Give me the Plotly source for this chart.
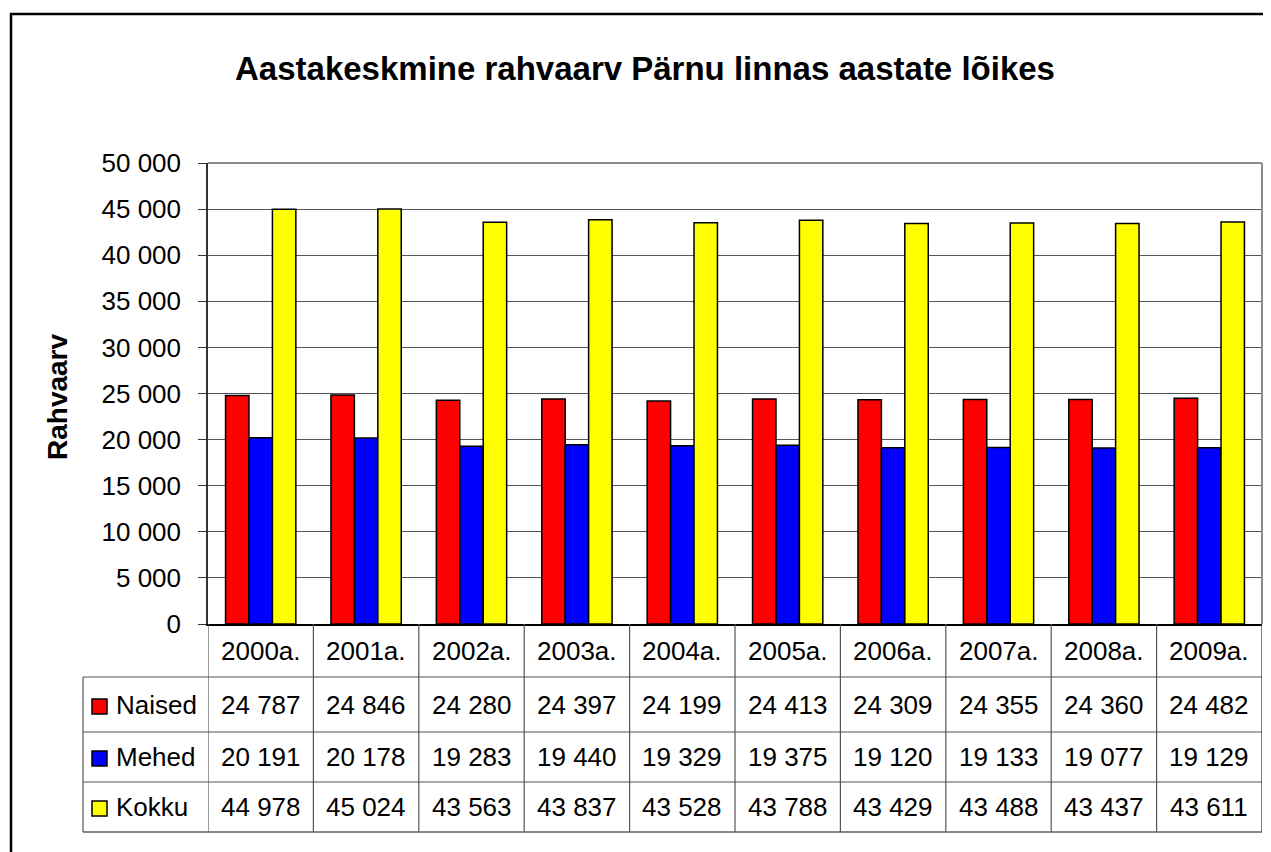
import plotly.graph_objects as go

years = ["2000a.", "2001a.", "2002a.", "2003a.", "2004a.", "2005a.", "2006a.", "2007a.", "2008a.", "2009a."]
naised = [24787, 24846, 24280, 24397, 24199, 24413, 24309, 24355, 24360, 24482]
mehed = [20191, 20178, 19283, 19440, 19329, 19375, 19120, 19133, 19077, 19129]
kokku = [44978, 45024, 43563, 43837, 43528, 43788, 43429, 43488, 43437, 43611]
series_names = ["Naised", "Mehed", "Kokku"]
series_colors = ["#FF0000", "#0000FF", "#FFFF00"]
title_text = "Aastakeskmine rahvaarv Pärnu linnas aastate lõikes"
ytitle = "Rahvaarv"

# page is offset by the default 8px body margin
OFF = 8
PW, PH = 1271, 852
W, H = PW - OFF, PH - OFF
L, R, T, B = 208, 1262, 163, 624   # plot area in page pixels
pw, ph = R - L, B - T

def px(x):
    return (x - L) / pw

def py(y):
    return (B - y) / ph

FONT = "Liberation Sans, Arial, sans-serif"
series = [naised, mehed, kokku]

fig = go.Figure()
for name, vals, col in zip(series_names, series, series_colors):
    fig.add_trace(go.Bar(x=list(range(len(years))), y=vals, name=name,
                         marker=dict(color=col, line=dict(color="black", width=1.5)),
                         showlegend=False, hoverinfo="x+y"))

shapes = []
annotations = []
# outer border
shapes.append(dict(type="rect", xref="paper", yref="paper", x0=px(11), x1=px(1290), y0=py(14), y1=py(880),
                   line=dict(color="black", width=2.5), fillcolor="rgba(0,0,0,0)", layer="below"))
# plot area top/right border
shapes.append(dict(type="line", xref="paper", yref="paper", x0=0, x1=1, y0=1, y1=1, line=dict(color="#8c8c8c", width=2)))
shapes.append(dict(type="line", xref="paper", yref="paper", x0=1, x1=1, y0=0, y1=1, line=dict(color="#8c8c8c", width=2)))

# table geometry (page pixel rows)
row_lines = [624, 677, 732, 782, 832]
row_centers = [651, 705, 757, 807]
line_col = "#555555"
shapes.append(dict(type="line", xref="paper", yref="paper", x0=px(83), x1=1, y0=py(677), y1=py(677), line=dict(color=line_col, width=1.2)))
for yl in row_lines[2:]:
    shapes.append(dict(type="line", xref="paper", yref="paper", x0=px(83), x1=1, y0=py(yl), y1=py(yl),
                       line=dict(color=line_col if yl != 832 else "#888888", width=1.2 if yl != 832 else 2)))
shapes.append(dict(type="line", xref="paper", yref="paper", x0=px(83), x1=px(83), y0=py(677), y1=py(832), line=dict(color=line_col, width=1.2)))
for i in range(len(years) + 1):
    shapes.append(dict(type="line", xref="x", yref="paper", x0=i - 0.5, x1=i - 0.5, y0=0, y1=py(832),
                       line=dict(color=line_col if i < len(years) else "#333333", width=1.2)))

# header row
for i, yr in enumerate(years):
    annotations.append(dict(x=i, y=py(row_centers[0]), xref="x", yref="paper", text=yr, showarrow=False,
                            font=dict(family=FONT, size=26, color="black"), xanchor="center", yanchor="middle"))
# data rows
for r, (name, vals, col) in enumerate(zip(series_names, series, series_colors)):
    yc = row_centers[r + 1]
    for i, v in enumerate(vals):
        annotations.append(dict(x=i, y=py(yc), xref="x", yref="paper", text=f"{v:,}".replace(",", " "),
                                showarrow=False, font=dict(family=FONT, size=26, color="black"),
                                xanchor="center", yanchor="middle"))
    annotations.append(dict(x=px(114), y=py(yc), xref="paper", yref="paper", text=name, showarrow=False,
                            font=dict(family=FONT, size=26, color="black"), xanchor="left", yanchor="middle"))
    shapes.append(dict(type="rect", xref="paper", yref="paper", x0=px(92), x1=px(107), y0=py(yc - 6), y1=py(yc + 9),
                       fillcolor=col, line=dict(color="black", width=1.5)))

# y title
annotations.append(dict(x=px(57), y=py(397), xref="paper", yref="paper", text=ytitle, textangle=-90, showarrow=False,
                        font=dict(family=FONT, size=28, color="black", weight="bold"), xanchor="center", yanchor="middle"))
# title
annotations.append(dict(x=px(645), y=py(68), xref="paper", yref="paper", text=title_text, showarrow=False,
                        font=dict(family=FONT, size=33, color="black", weight="bold"), xanchor="center", yanchor="middle"))

fig.update_layout(
    width=W, height=H,
    margin=dict(l=L - OFF, r=PW - R, t=T - OFF, b=PH - B, pad=0),
    paper_bgcolor="white", plot_bgcolor="white",
    barmode="group", bargap=0.333, bargroupgap=0,
    separators=". ",
    font=dict(family=FONT, size=26, color="black"),
    shapes=shapes, annotations=annotations,
    xaxis=dict(range=[-0.5, len(years) - 0.5], showticklabels=False, ticks="", showgrid=False,
               showline=True, linecolor="black", linewidth=2, zeroline=False, fixedrange=True),
    yaxis=dict(range=[0, 50000], dtick=5000, tickformat=",d", ticks="outside", ticklen=8, tickcolor="#333333",
               showline=True, linecolor="#333333", linewidth=1.5, showgrid=True, gridcolor="#555555", gridwidth=1,
               zeroline=False, ticklabelstandoff=12, tickfont=dict(family=FONT, size=26, color="black"), fixedrange=True),
)

fig.write_html("out.html")
